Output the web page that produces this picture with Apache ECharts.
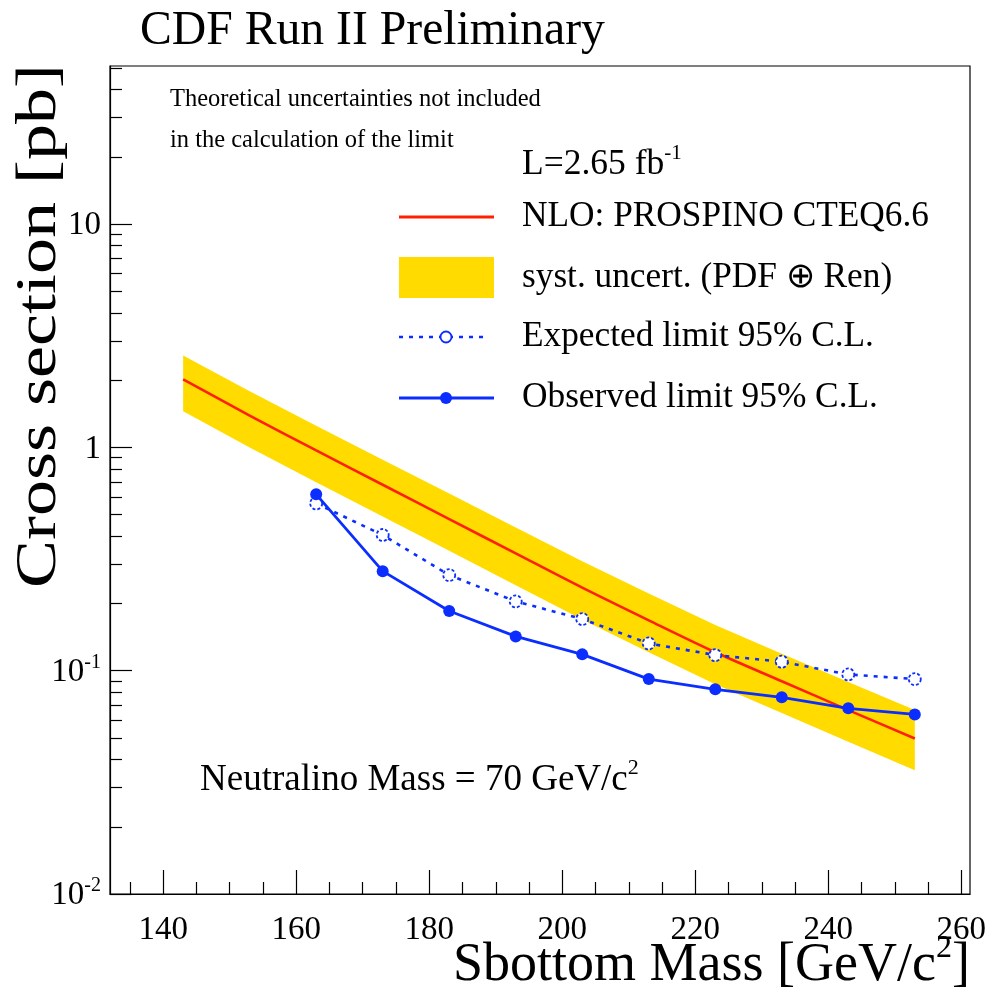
<!DOCTYPE html>
<html>
<head>
<meta charset="utf-8">
<script src="https://cdn.jsdelivr.net/npm/echarts@6/dist/echarts.min.js"></script>
<style>
  html, body { margin: 0; padding: 0; background: #fff; }
  #chart { width: 992px; height: 1001px; }
</style>
</head>
<body>
<div id="chart"></div>
<script>
// NLO sbottom pair cross section (PROSPINO, CTEQ6.6) and its systematic band
const massTheory = [143, 153, 163, 173, 183, 193, 203, 213, 223, 233, 243, 253];
const xsecTheory = [2.016, 1.388, 0.9685, 0.680, 0.4775, 0.335, 0.2353, 0.168, 0.1209, 0.0897, 0.0666, 0.0497];
const xsecUpper  = [2.58, 1.784, 1.249, 0.881, 0.6217, 0.4378, 0.309, 0.2214, 0.1601, 0.1192, 0.0889, 0.0666];
const xsecLower  = [1.452, 0.999, 0.697, 0.490, 0.344, 0.241, 0.1694, 0.121, 0.0870, 0.0646, 0.0480, 0.0358];

// 95% C.L. limits
const massLimit     = [163, 173, 183, 193, 203, 213, 223, 233, 243, 253];
const expectedLimit = [0.561, 0.405, 0.268, 0.2043, 0.1703, 0.1325, 0.1174, 0.1097, 0.0962, 0.0917];
const observedLimit = [0.616, 0.279, 0.185, 0.1424, 0.1183, 0.0917, 0.0825, 0.0760, 0.0678, 0.0637];

// axis ticks
const xMajorTicks = [140, 160, 180, 200, 220, 240, 260];
const xMinorTicks = [135, 145, 150, 155, 165, 170, 175, 185, 190, 195, 205, 210, 215, 225, 230, 235, 245, 250, 255];
const yMajorTicks = [0.01, 0.1, 1, 10];
const yMinorTicks = [0.02, 0.03, 0.04, 0.05, 0.06, 0.07, 0.08, 0.09,
                     0.2, 0.3, 0.4, 0.5, 0.6, 0.7, 0.8, 0.9,
                     2, 3, 4, 5, 6, 7, 8, 9, 20, 30, 40, 50];

const FONT = '"Liberation Serif", "Times New Roman", serif';
const BLUE = '#0b2dff';
const RED = '#ff2000';
const GOLD = '#ffdb00';

const chart = echarts.init(document.getElementById('chart'), null, { renderer: 'canvas' });

function yLabel(v) {
  const p = Math.round(Math.log10(v));
  if (p === 0) return '{b|1}';
  if (p === 1) return '{b|10}';
  return '{b|10}{s|' + p + '}';
}

const xRange = { min: 132, max: 261.3 };
const yRange = { min: 0.01, max: 51 };

const option = {
  animation: false,
  backgroundColor: '#fff',
  grid: {
    left: 110, right: 22, top: 66, bottom: 107,
    show: true, borderColor: '#000', borderWidth: 1.2, backgroundColor: 'transparent'
  },
  xAxis: [
    {
      type: 'value', min: xRange.min, max: xRange.max,
      axisLine: { show: true, onZero: false, lineStyle: { color: '#000', width: 1.2 } },
      axisTick: { show: true, inside: true, length: 24, customValues: xMajorTicks, lineStyle: { color: '#000', width: 1.2 } },
      axisLabel: {
        show: true, customValues: xMajorTicks, margin: 20,
        fontFamily: FONT, fontSize: 33, color: '#000'
      },
      splitLine: { show: false }
    },
    {
      type: 'value', min: xRange.min, max: xRange.max, position: 'bottom',
      axisLine: { show: false, onZero: false },
      axisTick: { show: true, inside: true, length: 12, customValues: xMinorTicks, lineStyle: { color: '#000', width: 1.2 } },
      axisLabel: { show: false },
      splitLine: { show: false }
    }
  ],
  yAxis: [
    {
      type: 'log', logBase: 10, min: yRange.min, max: yRange.max,
      axisLine: { show: true, onZero: false, lineStyle: { color: '#000', width: 1.2 } },
      axisTick: { show: true, inside: true, length: 22, customValues: yMajorTicks, lineStyle: { color: '#000', width: 1.2 } },
      axisLabel: {
        show: true, customValues: yMajorTicks, margin: 9,
        formatter: yLabel,
        rich: {
          b: { fontFamily: FONT, fontSize: 33, color: '#000', lineHeight: 36, verticalAlign: 'bottom' },
          s: { fontFamily: FONT, fontSize: 20, color: '#000', lineHeight: 36, verticalAlign: 'top', padding: [0, 0, 12, 0] }
        }
      },
      splitLine: { show: false }
    },
    {
      type: 'log', logBase: 10, min: yRange.min, max: yRange.max, position: 'left',
      axisLine: { show: false, onZero: false },
      axisTick: { show: true, inside: true, length: 12, customValues: yMinorTicks, lineStyle: { color: '#000', width: 1.2 } },
      axisLabel: { show: false },
      splitLine: { show: false }
    }
  ],
  series: [
    {
      // systematic uncertainty band drawn as one polygon
      type: 'custom',
      name: 'band',
      xAxisIndex: 0, yAxisIndex: 0,
      data: massTheory.map((m, i) => [m, xsecLower[i], xsecUpper[i]]),
      encode: { x: 0, y: [1, 2] },
      clip: true,
      renderItem: function (params, api) {
        if (params.dataIndex !== 0) return null;
        const upper = massTheory.map((m, i) => api.coord([m, xsecUpper[i]]));
        const lower = massTheory.map((m, i) => api.coord([m, xsecLower[i]])).reverse();
        return {
          type: 'polygon',
          shape: { points: upper.concat(lower) },
          style: { fill: GOLD, stroke: null }
        };
      },
      z: 1
    },
    {
      type: 'line', name: 'NLO',
      data: massTheory.map((m, i) => [m, xsecTheory[i]]),
      smooth: 0.3, symbol: 'none',
      lineStyle: { color: RED, width: 2.6 },
      z: 2
    },
    {
      type: 'line', name: 'Expected',
      data: massLimit.map((m, i) => [m, expectedLimit[i]]),
      symbol: 'circle', symbolSize: 12,
      itemStyle: { color: '#fff', borderColor: BLUE, borderWidth: 1.8, borderType: [3, 2] },
      lineStyle: { color: BLUE, width: 2.6, type: [4, 6] },
      z: 3
    },
    {
      type: 'line', name: 'Observed',
      data: massLimit.map((m, i) => [m, observedLimit[i]]),
      symbol: 'circle', symbolSize: 12,
      itemStyle: { color: BLUE, borderColor: BLUE, borderWidth: 0 },
      lineStyle: { color: BLUE, width: 2.8 },
      z: 4
    }
  ],
  graphic: [
    {
      type: 'text', x: 140, y: 31,
      style: { text: 'CDF Run II Preliminary', font: '47.7px ' + FONT, fill: '#000', textAlign: 'left', textVerticalAlign: 'middle' }
    },
    {
      // rotated axis title, narrowed across its height
      type: 'text', x: 40, y: 64, rotation: Math.PI / 2, scaleY: 0.78,
      style: { text: 'Cross section [pb]', font: '72px ' + FONT, fill: '#000', textAlign: 'right', textVerticalAlign: 'middle' }
    },
    {
      type: 'text', x: 970, y: 963,
      style: {
        text: '{b|Sbottom Mass [GeV/c}{s|2}{b|]}', fill: '#000', textAlign: 'right', textVerticalAlign: 'middle',
        rich: {
          b: { fontFamily: FONT, fontSize: 54, lineHeight: 60, verticalAlign: 'bottom' },
          s: { fontFamily: FONT, fontSize: 32, lineHeight: 60, verticalAlign: 'top' }
        }
      }
    },
    {
      type: 'text', x: 170, y: 100,
      style: { text: 'Theoretical uncertainties not included', font: '24.5px ' + FONT, fill: '#000', textAlign: 'left', textVerticalAlign: 'middle' }
    },
    {
      type: 'text', x: 170, y: 141,
      style: { text: 'in the calculation of the limit', font: '24.5px ' + FONT, fill: '#000', textAlign: 'left', textVerticalAlign: 'middle' }
    },
    {
      type: 'text', x: 522, y: 163,
      style: {
        text: '{b|L=2.65 fb}{s|-1}', fill: '#000', textAlign: 'left', textVerticalAlign: 'middle',
        rich: {
          b: { fontFamily: FONT, fontSize: 35.5, lineHeight: 40, verticalAlign: 'bottom' },
          s: { fontFamily: FONT, fontSize: 21, lineHeight: 40, verticalAlign: 'top' }
        }
      }
    },
    // legend samples
    { type: 'line', shape: { x1: 399, y1: 217, x2: 494, y2: 217 }, style: { stroke: RED, lineWidth: 3 } },
    { type: 'rect', shape: { x: 399, y: 257, width: 95, height: 41 }, style: { fill: GOLD } },
    { type: 'line', shape: { x1: 399, y1: 337, x2: 489, y2: 337 }, style: { stroke: BLUE, lineWidth: 2.6, lineDash: [4, 6] } },
    { type: 'circle', shape: { cx: 446, cy: 337, r: 5.5 }, style: { fill: '#fff', stroke: BLUE, lineWidth: 1.8 } },
    { type: 'line', shape: { x1: 399, y1: 398, x2: 494, y2: 398 }, style: { stroke: BLUE, lineWidth: 3 } },
    { type: 'circle', shape: { cx: 446, cy: 398, r: 6 }, style: { fill: BLUE } },
    {
      type: 'text', x: 522, y: 217,
      style: { text: 'NLO: PROSPINO CTEQ6.6', font: '35.3px ' + FONT, fill: '#000', textAlign: 'left', textVerticalAlign: 'middle' }
    },
    {
      type: 'text', x: 522, y: 278,
      style: { text: 'syst. uncert. (PDF \u2295 Ren)', font: '35.3px ' + FONT, fill: '#000', textAlign: 'left', textVerticalAlign: 'middle' }
    },
    {
      type: 'text', x: 522, y: 337,
      style: { text: 'Expected limit 95% C.L.', font: '35.3px ' + FONT, fill: '#000', textAlign: 'left', textVerticalAlign: 'middle' }
    },
    {
      type: 'text', x: 522, y: 398,
      style: { text: 'Observed limit 95% C.L.', font: '35.3px ' + FONT, fill: '#000', textAlign: 'left', textVerticalAlign: 'middle' }
    },
    {
      type: 'text', x: 200, y: 778,
      style: {
        text: '{b|Neutralino Mass = 70 GeV/c}{s|2}', fill: '#000', textAlign: 'left', textVerticalAlign: 'middle',
        rich: {
          b: { fontFamily: FONT, fontSize: 37, lineHeight: 42, verticalAlign: 'bottom' },
          s: { fontFamily: FONT, fontSize: 22, lineHeight: 42, verticalAlign: 'top' }
        }
      }
    }
  ]
};

chart.setOption(option);
</script>
</body>
</html>
